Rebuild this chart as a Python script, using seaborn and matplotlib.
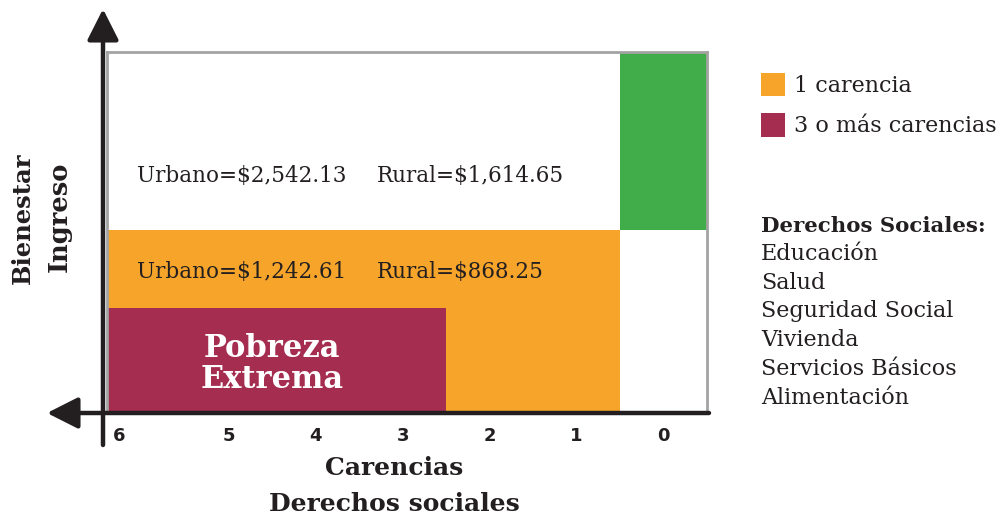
import matplotlib

matplotlib.use("Agg")
import matplotlib.pyplot as plt
import pandas as pd
import seaborn as sns
from matplotlib.patches import Patch

# Number of social-rights deprivations, left (6) to right (0)
carencias = [6, 5, 4, 3, 2, 1, 0]

# Income levels (relative units)
nivel_extrema = 104      # top of "Pobreza Extrema" block
nivel_minimo = 182       # linea de bienestar minimo (top of orange)
nivel_bienestar = 360    # top of the chart

# Which columns each block covers
cols_extrema = [6, 5, 4, 3]
cols_una = [6, 5, 4, 3, 2, 1]
cols_sin = [0]

linea_bienestar = ["Urbano=$2,542.13", "Rural=$1,614.65"]
linea_minimo = ["Urbano=$1,242.61", "Rural=$868.25"]
legend_labels = ["1 carencia", "3 o más carencias"]
derechos = ["Educación", "Salud", "Seguridad Social", "Vivienda",
            "Servicios Básicos", "Alimentación"]

ORANGE = "#F7A52A"
PURPLE = "#A52D50"
GREEN = "#40AD4A"
DARK = "#231F20"
SLAB = ["DejaVu Serif"]


def main() -> None:
    sns.set_theme(style="white")
    plt.rcParams["font.family"] = ["DejaVu Sans"]

    order = carencias
    df_una = pd.DataFrame({"carencias": cols_una, "ingreso": [nivel_minimo] * len(cols_una)})
    df_ext = pd.DataFrame({"carencias": cols_extrema, "ingreso": [nivel_extrema] * len(cols_extrema)})
    df_sin = pd.DataFrame({"carencias": cols_sin,
                           "ingreso": [nivel_bienestar - nivel_minimo] * len(cols_sin)})

    fig = plt.figure(figsize=(10.03, 5.18), dpi=100)
    ax = fig.add_axes([107 / 1003, 106 / 518, 600 / 1003, 360 / 518])

    sns.barplot(data=df_una, x="carencias", y="ingreso", order=order, color=ORANGE,
                width=1.0, saturation=1, linewidth=0, ax=ax)
    sns.barplot(data=df_ext, x="carencias", y="ingreso", order=order, color=PURPLE,
                width=1.0, saturation=1, linewidth=0, ax=ax)
    sns.barplot(data=df_sin, x="carencias", y="ingreso", order=order, color=GREEN,
                width=1.0, saturation=1, linewidth=0, bottom=nivel_minimo, ax=ax)

    ax.set_xlim(-0.4, 6.5)
    ax.set_ylim(0, nivel_bienestar)
    ax.set_xticks([-0.26, 1, 2, 3, 4, 5, 6])
    ax.set_xticklabels([str(c) for c in carencias], fontsize=13, fontweight="bold", color=DARK)
    ax.set_yticks([])
    ax.tick_params(axis="x", length=0, pad=11)
    ax.set_xlabel("")
    ax.set_ylabel("")
    for sp in ax.spines.values():
        sp.set_visible(True)
        sp.set_color("#A3A3A3")
        sp.set_linewidth(2)

    # Income thresholds text
    y_bien = 236
    y_min = 140
    for txt, x in zip(linea_bienestar, [-0.055, 2.70]):
        ax.text(x, y_bien, txt, fontsize=15.5, family=SLAB, color=DARK, va="center", ha="left")
    for txt, x in zip(linea_minimo, [-0.055, 2.70]):
        ax.text(x, y_min, txt, fontsize=15.5, family=SLAB, color=DARK, va="center", ha="left")
    ax.text(1.5, 48, "Pobreza\nExtrema", fontsize=22, family=SLAB,
            fontweight="bold", color="white", ha="center", va="center", linespacing=1.0)

    # Axes arrows
    arrow = dict(arrowstyle="-|>,head_length=0.95,head_width=0.48", lw=3.2, color=DARK,
                 shrinkA=0, shrinkB=0, mutation_scale=20)
    ax.annotate("", xy=(103, 509), xytext=(103, 73), xycoords="figure pixels",
                textcoords="figure pixels", arrowprops=arrow, annotation_clip=False)
    ax.annotate("", xy=(47, 105), xytext=(709, 105), xycoords="figure pixels",
                textcoords="figure pixels", arrowprops=arrow, annotation_clip=False)

    # Axis titles
    fig.text(23 / 1003, 1 - 218 / 518, "Bienestar", rotation=90, fontsize=17.5, family=SLAB,
             fontweight="bold", color=DARK, ha="center", va="center")
    fig.text(59 / 1003, 1 - 217 / 518, "Ingreso", rotation=90, fontsize=18.5, family=SLAB,
             fontweight="bold", color=DARK, ha="center", va="center")
    fig.text(394 / 1003, 1 - 468 / 518, "Carencias", fontsize=18, family=SLAB,
             fontweight="bold", color=DARK, ha="center", va="center")
    fig.text(394 / 1003, 1 - 504 / 518, "Derechos sociales", fontsize=18, family=SLAB,
             fontweight="bold", color=DARK, ha="center", va="center")

    # Legend
    handles = [Patch(facecolor=ORANGE, edgecolor="none"), Patch(facecolor=PURPLE, edgecolor="none")]
    fig.legend(handles, legend_labels, loc="upper left", bbox_to_anchor=(752 / 1003, 1 - 64 / 518),
               frameon=False, prop={"family": SLAB, "size": 16}, handlelength=1.08,
               handleheight=1.25, handletextpad=0.4, labelspacing=0.72, borderaxespad=0,
               labelcolor=DARK)

    fig.text(761 / 1003, 1 - 226 / 518, "Derechos Sociales:", fontsize=15.3, family=SLAB,
             fontweight="bold", color=DARK, ha="left", va="center")
    for i, d in enumerate(derechos):
        fig.text(761 / 1003, 1 - (254 + i * 28.7) / 518, d, fontsize=16, family=SLAB,
                 color=DARK, ha="left", va="center")

    fig.savefig("out.png", dpi=100)
    plt.close(fig)


if __name__ == "__main__":
    main()
